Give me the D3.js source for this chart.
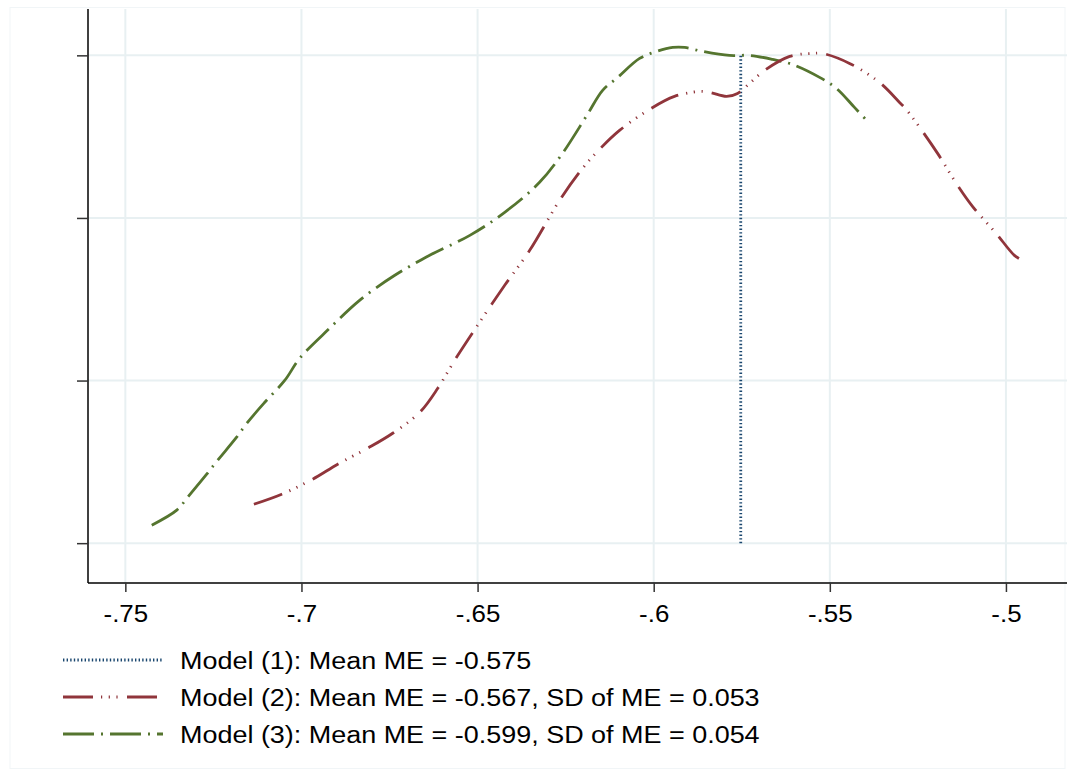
<!DOCTYPE html>
<html><head><meta charset="utf-8">
<script src="https://cdn.jsdelivr.net/npm/d3@7"></script>
<style>body{margin:0;background:#fff}svg{display:block}text{font-family:"Liberation Sans",Arial,sans-serif}</style>
</head><body>
<svg id="chart" width="1067" height="771"></svg>
<script>
const xTicks = [-0.75, -0.7, -0.65, -0.6, -0.55, -0.5];
const xTickLabels = ["-.75", "-.7", "-.65", "-.6", "-.55", "-.5"];
const yTicks = [2, 4, 6, 8];
const model1Mean = -0.575;
const model1Span = [2, 8];
const model2X = [-0.7135,-0.7056,-0.6968,-0.6897,-0.6812,-0.6741,-0.6664,-0.6613,-0.6565,-0.6500,-0.6423,-0.6352,-0.6267,-0.6202,-0.6154,-0.6097,-0.6012,-0.5941,-0.5870,-0.5841,-0.5793,-0.5762,-0.5728,-0.5685,-0.5614,-0.5549,-0.5521,-0.5444,-0.5359,-0.5302,-0.5283,-0.5194,-0.5141,-0.5095,-0.5028,-0.4976,-0.4954];
const model2Y = [2.479,2.602,2.787,2.971,3.168,3.352,3.610,3.905,4.250,4.680,5.172,5.602,6.217,6.610,6.843,7.077,7.335,7.495,7.556,7.544,7.495,7.532,7.655,7.815,7.987,8.024,8.024,7.901,7.667,7.421,7.335,6.794,6.425,6.143,5.811,5.540,5.479];
const model3X = [-0.7425,-0.7354,-0.7323,-0.7269,-0.7240,-0.7184,-0.7155,-0.7104,-0.7047,-0.7005,-0.6920,-0.6835,-0.6735,-0.6636,-0.6522,-0.6423,-0.6324,-0.6259,-0.6188,-0.6145,-0.6102,-0.6040,-0.5992,-0.5946,-0.5912,-0.5861,-0.5785,-0.5728,-0.5663,-0.5606,-0.5529,-0.5481,-0.5430,-0.5393];
const model3Y = [2.221,2.406,2.565,2.848,3.008,3.303,3.475,3.733,4.004,4.274,4.643,4.987,5.295,5.540,5.786,6.069,6.438,6.794,7.274,7.569,7.729,7.962,8.048,8.097,8.097,8.048,7.999,7.999,7.950,7.888,7.729,7.593,7.360,7.188];
const legendLabels = ["Model (1): Mean ME = -0.575", "Model (2): Mean ME = -0.567, SD of ME = 0.053", "Model (3): Mean ME = -0.599, SD of ME = 0.054"];

const colors = ["#1a476f", "#90353b", "#55752f"];
const dashes = ["1.4,2.2", "30,8,1.2,6.5,1.2,6.5,1.2,9.4", "31,7,2,7"];
const widths = [2.8, 2.8, 2.8];

const svg = d3.select("#chart");
const x = d3.scaleLinear().domain([-0.7606, -0.4838]).range([88, 1063]);
const y = d3.scaleLinear().domain([1.51, 8.57]).range([583, 9]);

// faint outer border
svg.append("rect").attr("x", 10).attr("y", 7.5).attr("width", 1055).attr("height", 761)
  .attr("fill", "none").attr("stroke", "#f1f5f7").attr("stroke-width", 1);

// grid
const g = svg.append("g");
g.selectAll(".vg").data(xTicks).join("line").attr("class","vg")
  .attr("x1", d => x(d)).attr("x2", d => x(d)).attr("y1", 9).attr("y2", 583)
  .attr("stroke", "#e8f0f2").attr("stroke-width", 2);
g.selectAll(".hg").data(yTicks).join("line").attr("class","hg")
  .attr("x1", 88).attr("x2", 1067).attr("y1", d => y(d)).attr("y2", d => y(d))
  .attr("stroke", "#e8f0f2").attr("stroke-width", 2);

// axes
const xAxis = d3.axisBottom(x).tickValues(xTicks).tickFormat((d,i) => xTickLabels[i]).tickSize(9).tickPadding(13);
const xg = svg.append("g").attr("transform", "translate(0,583)").call(xAxis);
xg.select(".domain").attr("stroke", "#000").attr("stroke-width", 1.5).attr("d", "M88,0H1067");
xg.selectAll(".tick line").attr("stroke", "#333").attr("stroke-width", 1.5);
xg.selectAll(".tick text").attr("font-size", 24).attr("fill", "#000")
  .attr("font-family", '"Liberation Sans",Arial,sans-serif')
  .attr("transform", "scale(1.08,1)");

const yAxis = d3.axisLeft(y).tickValues(yTicks).tickFormat("").tickSize(11);
const yg = svg.append("g").attr("transform", "translate(88,0)").call(yAxis);
yg.select(".domain").attr("stroke", "#000").attr("stroke-width", 1.5).attr("d", "M0,9V583");
yg.selectAll(".tick line").attr("stroke", "#333").attr("stroke-width", 1.5);

// model 1 vertical line
svg.append("line").attr("x1", x(model1Mean) - 1).attr("x2", x(model1Mean) - 1)
  .attr("y1", y(model1Span[0])).attr("y2", y(model1Span[1]))
  .attr("stroke", colors[0]).attr("stroke-width", widths[0]).attr("stroke-dasharray", dashes[0]);

const line = d3.line().x(d => x(d[0])).y(d => y(d[1])).curve(d3.curveCatmullRom.alpha(0.5));
const m2 = model2X.map((v,i) => [v, model2Y[i]]);
const m3 = model3X.map((v,i) => [v, model3Y[i]]);
svg.append("path").datum(m3).attr("d", line).attr("fill","none")
  .attr("stroke", colors[2]).attr("stroke-width", widths[2]).attr("stroke-dasharray", dashes[2]);
svg.append("path").datum(m2).attr("d", line).attr("fill","none")
  .attr("stroke", colors[1]).attr("stroke-width", widths[1]).attr("stroke-dasharray", dashes[1]);

// legend
const ly = [660, 697, 734];
const lg = svg.append("g");
legendLabels.forEach((t, i) => {
  lg.append("line").attr("x1", 63).attr("x2", 163).attr("y1", ly[i]).attr("y2", ly[i])
    .attr("stroke", colors[i]).attr("stroke-width", widths[i]).attr("stroke-dasharray", dashes[i]);
  lg.append("text").attr("transform", `translate(180,${ly[i] + 8.5}) scale(1.1,1)`)
    .attr("font-size", 24.5).attr("fill", "#000").text(t);
});
</script>
</body></html>
